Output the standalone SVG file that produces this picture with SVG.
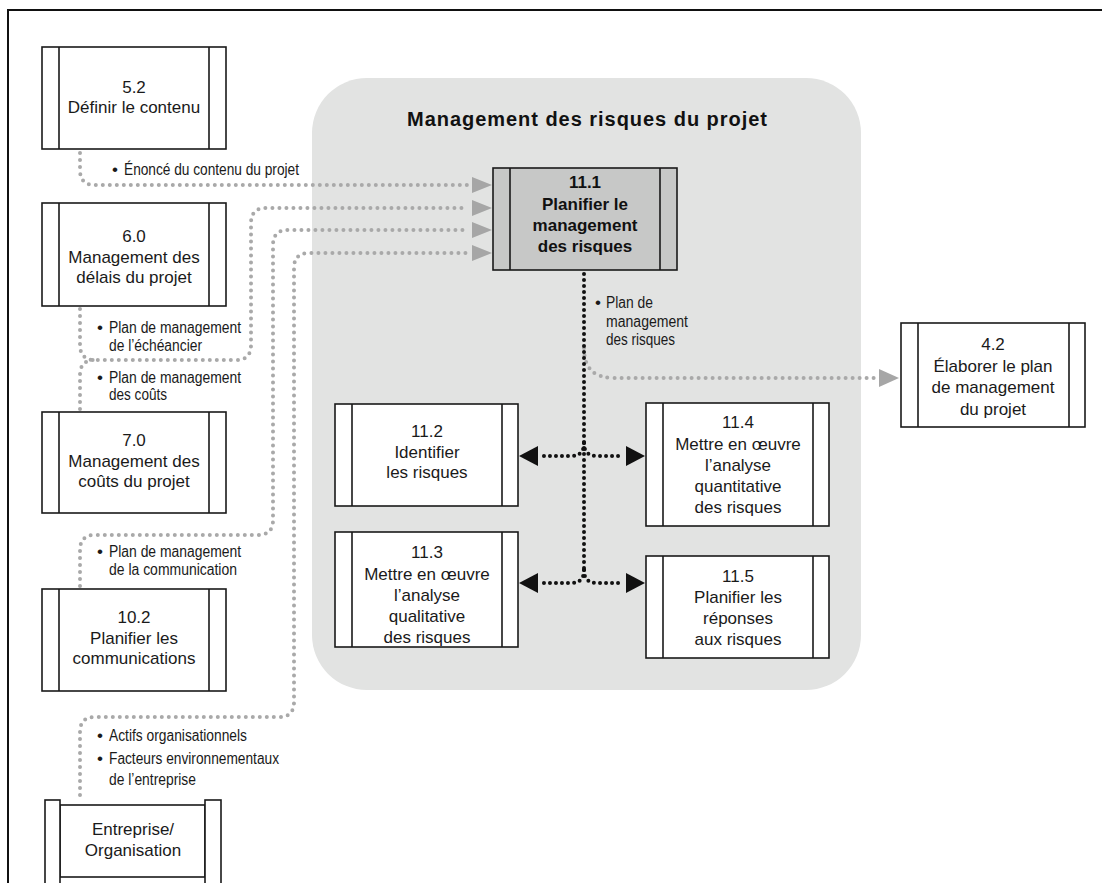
<svg xmlns="http://www.w3.org/2000/svg" width="1102" height="883" viewBox="0 0 1102 883">
<defs>
<style>
.box{fill:#fff;stroke:#1a1a1a;stroke-width:1.6}
.hbox{fill:#c7c8c7;stroke:#1a1a1a;stroke-width:1.6}
.bar{fill:none;stroke:#1a1a1a;stroke-width:1.6}
.t{font-family:"Liberation Sans",Arial,sans-serif;font-size:17px;fill:#1a1a1a;text-anchor:middle}
.tb{font-family:"Liberation Sans",Arial,sans-serif;font-size:17px;font-weight:bold;fill:#111;text-anchor:middle}
.lbl{font-family:"Liberation Sans",Arial,sans-serif;font-size:16px;fill:#1a1a1a}
.bul{font-family:"Liberation Sans",Arial,sans-serif;font-size:17px;fill:#1a1a1a}
.g{fill:none;stroke:#a9a9a9;stroke-width:4;stroke-linecap:round;stroke-dasharray:0 7}
.k{fill:none;stroke:#111;stroke-width:4;stroke-linecap:round;stroke-dasharray:0 6}
.gh{fill:#a6a6a6}
.kh{fill:#111}
</style>
</defs>
<rect width="1102" height="883" fill="#fff"/>
<path d="M8,883 V10 H1102" fill="none" stroke="#111" stroke-width="2"/>

<g id="group-risk">
<rect x="312" y="78" width="549" height="612" rx="55" ry="55" fill="#e2e3e2"/>
<text x="587" y="126" font-family="Liberation Sans, Arial, sans-serif" font-size="20" font-weight="bold" fill="#111" text-anchor="middle" textLength="360" lengthAdjust="spacing">Management des risques du projet</text>
</g>

<g id="connectors">
<path class="g" d="M80,153 V170 Q80,185 95,185 H468"/>
<path class="g" d="M80,309 V345 Q80,360 95,360 H236 Q251,360 251,345 V223 Q251,208 266,208 H468"/>
<path class="g" d="M80,409 V375 Q80,360 95,360"/>
<path class="g" d="M80,586 V550 Q80,535 95,535 H258 Q273,535 273,520 V245 Q273,230 288,230 H468"/>
<path class="g" d="M80,795 V732 Q80,717 95,717 H279 Q294,717 294,702 V268 Q294,253 309,253 H468"/>
<path class="g" d="M584,348 Q584,378 614,378 H876"/>
<polygon class="gh" points="472,177 492,185 472,193"/>
<polygon class="gh" points="472,200 492,208 472,216"/>
<polygon class="gh" points="472,222 492,230 472,238"/>
<polygon class="gh" points="472,245 492,253 472,261"/>
<polygon class="gh" points="879,369 899,378 879,387"/>
<path class="k" d="M584,274 V570"/>
<path class="k" d="M584,443 Q584,456 571,456 H540"/>
<path class="k" d="M584,443 Q584,456 597,456 H624"/>
<path class="k" d="M584,570 Q584,583 571,583 H540"/>
<path class="k" d="M584,570 Q584,583 597,583 H624"/>
<polygon class="kh" points="519,456 538,446 538,466"/>
<polygon class="kh" points="645,456 626,446 626,466"/>
<polygon class="kh" points="519,583 538,573 538,593"/>
<polygon class="kh" points="645,583 626,573 626,593"/>
<text class="bul" x="112" y="175">•</text>
<text class="lbl" x="124" y="175" textLength="175" lengthAdjust="spacingAndGlyphs">Énoncé du contenu du projet</text>
<text class="bul" x="97" y="333">•</text>
<text class="lbl" x="109" y="333" textLength="132" lengthAdjust="spacingAndGlyphs">Plan de management</text>
<text class="lbl" x="109" y="351" textLength="93" lengthAdjust="spacingAndGlyphs">de l’échéancier</text>
<text class="bul" x="97" y="383">•</text>
<text class="lbl" x="109" y="383" textLength="132" lengthAdjust="spacingAndGlyphs">Plan de management</text>
<text class="lbl" x="109" y="400" textLength="58" lengthAdjust="spacingAndGlyphs">des coûts</text>
<text class="bul" x="97" y="557">•</text>
<text class="lbl" x="109" y="557" textLength="132" lengthAdjust="spacingAndGlyphs">Plan de management</text>
<text class="lbl" x="109" y="575" textLength="128" lengthAdjust="spacingAndGlyphs">de la communication</text>
<text class="bul" x="97" y="741">•</text>
<text class="lbl" x="109" y="741" textLength="138" lengthAdjust="spacingAndGlyphs">Actifs organisationnels</text>
<text class="bul" x="97" y="764">•</text>
<text class="lbl" x="109" y="764" textLength="170" lengthAdjust="spacingAndGlyphs">Facteurs environnementaux</text>
<text class="lbl" x="109" y="785" textLength="87" lengthAdjust="spacingAndGlyphs">de l’entreprise</text>
<text class="bul" x="595" y="308">•</text>
<text class="lbl" x="606" y="308" textLength="47" lengthAdjust="spacingAndGlyphs">Plan de</text>
<text class="lbl" x="606" y="327" textLength="82" lengthAdjust="spacingAndGlyphs">management</text>
<text class="lbl" x="606" y="345" textLength="69" lengthAdjust="spacingAndGlyphs">des risques</text>
</g>

<g id="n52">
<rect class="box" x="42" y="47" width="184" height="102"/>
<path class="bar" d="M59,47 V149 M209,47 V149"/>
<text class="t" x="134" y="93">5.2</text>
<text class="t" x="134" y="113">Définir le contenu</text>
</g>

<g id="n60">
<rect class="box" x="42" y="203" width="184" height="103"/>
<path class="bar" d="M59,203 V306 M209,203 V306"/>
<text class="t" x="134" y="242">6.0</text>
<text class="t" x="134" y="263">Management des</text>
<text class="t" x="134" y="283">délais du projet</text>
</g>

<g id="n70">
<rect class="box" x="42" y="412" width="184" height="101"/>
<path class="bar" d="M59,412 V513 M209,412 V513"/>
<text class="t" x="134" y="446">7.0</text>
<text class="t" x="134" y="467">Management des</text>
<text class="t" x="134" y="487">coûts du projet</text>
</g>

<g id="n102">
<rect class="box" x="42" y="589" width="184" height="102"/>
<path class="bar" d="M59,589 V691 M209,589 V691"/>
<text class="t" x="134" y="623">10.2</text>
<text class="t" x="134" y="644">Planifier les</text>
<text class="t" x="134" y="664">communications</text>
</g>

<g id="entreprise">
<rect class="box" x="60" y="805" width="145" height="72"/>
<rect class="box" x="45" y="800" width="15" height="95"/>
<rect class="box" x="205" y="800" width="16" height="95"/>
<text class="t" x="133" y="835">Entreprise/</text>
<text class="t" x="133" y="856">Organisation</text>
</g>

<g id="n111">
<rect class="hbox" x="493" y="168" width="184" height="102"/>
<path class="bar" d="M510,168 V270 M660,168 V270"/>
<text class="tb" x="585" y="188">11.1</text>
<text class="tb" x="585" y="210">Planifier le</text>
<text class="tb" x="585" y="231">management</text>
<text class="tb" x="585" y="252">des risques</text>
</g>

<g id="n112">
<rect class="box" x="335" y="404" width="183" height="102"/>
<path class="bar" d="M352,404 V506 M502,404 V506"/>
<text class="t" x="427" y="437">11.2</text>
<text class="t" x="427" y="458">Identifier</text>
<text class="t" x="427" y="478">les risques</text>
</g>

<g id="n113">
<rect class="box" x="335" y="532" width="183" height="115"/>
<path class="bar" d="M352,532 V647 M502,532 V647"/>
<text class="t" x="427" y="558">11.3</text>
<text class="t" x="427" y="580">Mettre en œuvre</text>
<text class="t" x="427" y="601">l’analyse</text>
<text class="t" x="427" y="622">qualitative</text>
<text class="t" x="427" y="643">des risques</text>
</g>

<g id="n114">
<rect class="box" x="646" y="403" width="183" height="123"/>
<path class="bar" d="M663,403 V526 M813,403 V526"/>
<text class="t" x="738" y="428">11.4</text>
<text class="t" x="738" y="450">Mettre en œuvre</text>
<text class="t" x="738" y="471">l’analyse</text>
<text class="t" x="738" y="492">quantitative</text>
<text class="t" x="738" y="513">des risques</text>
</g>

<g id="n115">
<rect class="box" x="646" y="556" width="183" height="102"/>
<path class="bar" d="M663,556 V658 M813,556 V658"/>
<text class="t" x="738" y="582">11.5</text>
<text class="t" x="738" y="603">Planifier les</text>
<text class="t" x="738" y="624">réponses</text>
<text class="t" x="738" y="645">aux risques</text>
</g>

<g id="n42">
<rect class="box" x="901" y="323" width="184" height="104"/>
<path class="bar" d="M918,323 V427 M1069,323 V427"/>
<text class="t" x="993" y="350">4.2</text>
<text class="t" x="993" y="372">Élaborer le plan</text>
<text class="t" x="993" y="393">de management</text>
<text class="t" x="993" y="415">du projet</text>
</g>
</svg>
